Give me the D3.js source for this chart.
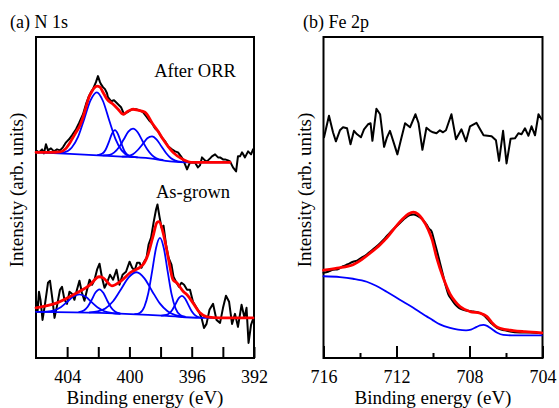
<!DOCTYPE html>
<html>
<head>
<meta charset="utf-8">
<script src="https://cdn.jsdelivr.net/npm/d3@7"></script>
<style>
  body { margin: 0; background: #fff; }
</style>
</head>
<body>
<svg id="chart" width="559" height="408"></svg>
<script>
// ---- N 1s : binding energy (eV), intensity (arb. units) ----
const n1sTicks = [404, 402, 400, 398, 396, 394, 392];
const n1sLabels = [404, 400, 396, 392];

// After ORR
const orrRaw = [[406.00,103.5],[405.81,102.5],[405.61,104],[405.49,102],[405.36,106.5],[405.23,103.5],[405.04,104.5],[404.84,103],[404.65,104],[404.46,103.5],[404.27,105],[404.07,107.5],[403.88,109],[403.69,111],[403.43,114],[403.24,117],[402.98,121.5],[402.79,126.5],[402.60,130.5],[402.47,132.5],[402.34,134],[402.15,137.5],[402.02,140.5],[401.89,137.5],[401.83,136.5],[401.70,135],[401.57,134],[401.44,132],[401.38,130],[401.18,128],[400.99,128.5],[400.86,127.5],[400.67,126],[400.54,125],[400.35,121.5],[400.16,122.5],[400.03,123],[399.83,124],[399.58,124],[399.38,123.5],[399.13,122.5],[398.93,120.5],[398.74,118.5],[398.55,117],[398.36,114.5],[398.16,113],[397.97,110.5],[397.71,108],[397.52,105.5],[397.27,104],[397.07,103],[396.88,102.5],[396.69,100.5],[396.56,99],[396.43,96.5],[396.30,94],[396.11,97.5],[395.92,97.5],[395.79,97.5],[395.60,95],[395.47,96],[395.34,100],[395.15,98.5],[395.02,98],[394.82,99.5],[394.70,100.5],[394.50,101.5],[394.31,100],[394.18,100],[393.99,99],[393.86,99],[393.67,98.5],[393.54,98],[393.35,95],[393.15,93],[393.03,100.5],[392.90,100.5],[392.77,102.5],[392.58,100],[392.38,103],[392.19,101.5],[392.06,104]];
const orrFit = [[406.00,102.5],[405.10,102.5],[404.46,102.75],[404.07,104.5],[403.88,106.5],[403.69,109],[403.43,112.5],[403.17,116],[402.98,120],[402.79,125],[402.60,130],[402.40,133],[402.27,134.5],[402.08,135.5],[401.89,135],[401.70,132.5],[401.44,129],[401.05,126.5],[400.73,124],[400.41,121.5],[400.09,123],[399.77,124],[399.45,123.5],[399.00,122.5],[398.49,116.5],[398.16,113],[397.84,109],[397.52,105.5],[397.20,102.5],[396.56,99],[395.92,97.5],[394.82,97.5],[393.54,97.5]];
const orrBg = [[406.00,102.5],[403.82,101.75],[400.80,100.5],[398.68,99.5],[397.39,98],[396.30,97.5],[393.54,97.5]];
const orrPeak1 = [[404.7,102.2],[404.2,102.5],[403.7,104.9],[403.3,110.2],[402.9,119.2],[402.5,128.4],[402.1,132.4],[401.7,128.1],[401.3,118.5],[400.9,109.25],[400.5,103.5],[400.0,100.7],[399.5,100.0]];
const orrPeak2 = [[402.03,101.1],[401.73,101.9],[401.53,103.8],[401.33,107.5],[401.13,111.65],[400.93,113.56],[400.73,111.5],[400.53,107.2],[400.33,103.3],[400.13,101.2],[399.83,100.1]];
const orrPeak3 = [[401.67,101.0],[401.27,101.3],[400.97,102.5],[400.67,105.0],[400.37,108.9],[400.07,112.8],[399.77,114.3],[399.47,112.5],[399.17,108.3],[398.87,104.2],[398.57,101.3],[398.27,99.6],[397.87,98.7]];
const orrPeak4 = [[400.45,100.4],[400.05,100.75],[399.75,101.7],[399.45,103.8],[399.15,106.6],[398.85,109.5],[398.55,110.45],[398.25,108.9],[397.95,105.55],[397.65,102.2],[397.35,99.7],[397.05,98.4],[396.65,97.8]];

// As-grown
const grownRaw = [[406.00,29],[405.90,23],[405.81,33],[405.71,29],[405.58,19],[405.42,27],[405.23,37.5],[405.10,38.5],[404.94,29],[404.81,20],[404.65,26],[404.46,34],[404.33,35.5],[404.17,29],[404.01,27],[403.85,33],[403.69,32],[403.53,29],[403.37,34],[403.21,38.5],[403.05,32.5],[402.89,28.5],[402.72,34],[402.56,39],[402.40,36.5],[402.24,39],[402.08,44],[401.92,47],[401.76,40],[401.60,35],[401.44,37.5],[401.25,41.5],[401.05,39],[400.83,44],[400.64,36.5],[400.44,41.5],[400.22,43],[399.99,48],[399.83,45],[399.67,43.5],[399.51,47.5],[399.35,47.5],[399.22,45],[399.06,48],[398.90,50],[398.77,56.5],[398.61,60],[398.45,67.5],[398.29,74],[398.20,76.5],[398.07,70.5],[397.94,65],[397.81,66],[397.65,56.5],[397.49,50],[397.30,46.5],[397.17,40.5],[396.98,37.5],[396.82,35.5],[396.66,37.5],[396.49,36.5],[396.30,34],[396.11,34],[395.92,28],[395.69,25],[395.53,23],[395.37,20],[395.21,15],[395.05,17],[394.86,24],[394.63,27],[394.41,19],[394.18,17.5],[393.99,25],[393.80,31],[393.60,28],[393.41,17],[393.22,22],[393.03,15.5],[392.80,26.5],[392.61,20],[392.48,25],[392.35,7.5],[392.19,16.5],[392.03,20]];
const grownFit = [[406.00,25],[404.65,27.5],[403.37,32.5],[402.53,36.5],[401.95,40.5],[401.70,40],[401.12,36],[400.61,38],[399.96,42.5],[399.13,46.5],[398.81,51.5],[398.49,60.5],[398.23,67.5],[398.10,68],[397.84,62.5],[397.52,50.5],[397.20,39],[396.96,37.5],[396.54,33.15],[396.30,31.5],[395.92,27.5],[395.47,22.5],[395.02,20.5],[394.18,20],[392.06,20]];
const grownBg = [[406.00,23],[401.89,22.5],[397.59,21],[395.47,20],[392.06,20]];
const grownPeakA = [[405.81,23.0],[405.31,23.1],[404.81,23.75],[404.41,25.3],[404.01,27.9],[403.61,30.6],[403.21,31.76],[402.81,30.5],[402.41,27.7],[402.01,25.0],[401.61,23.3],[401.11,22.4],[400.61,22.05]];
const grownPeakB = [[403.23,22.86],[402.93,23.62],[402.68,25.52],[402.43,28.9],[402.18,32.6],[401.93,34.25],[401.68,32.5],[401.43,28.68],[401.18,25.18],[400.93,23.16],[400.63,22.26]];
const grownPeakC = [[402.55,22.72],[402.05,23.18],[401.55,24.69],[401.05,28.26],[400.55,34.14],[400.05,40.19],[399.55,42.74],[399.05,39.84],[398.55,33.44],[398.05,27.21],[397.55,23.28],[397.05,21.4],[396.55,20.65]];
const grownPeakD = [[399.64,21.84],[399.34,22.45],[399.04,25.54],[398.79,32.25],[398.54,43.3],[398.29,54.84],[398.04,59.86],[397.79,54.67],[397.54,42.94],[397.29,31.69],[397.04,24.77],[396.74,21.44],[396.44,20.58]];
const grownPeakE = [[397.93,21.17],[397.63,21.47],[397.43,22.33],[397.23,24.23],[397.03,27.07],[396.83,29.86],[396.63,31.0],[396.43,29.67],[396.23,26.7],[396.03,23.66],[395.83,21.58],[395.63,20.54],[395.33,20.05]];

// ---- Fe 2p ----
const feMajor = [716, 712, 708, 704];
const feMinor = [714, 710, 706];

const feOrrRaw = [[715.97,110],[715.70,120.75],[715.48,112.5],[715.32,108],[715.10,113.5],[714.93,115],[714.71,114.5],[714.52,106.5],[714.33,113.25],[714.16,111.5],[713.95,110],[713.78,114],[713.56,116.5],[713.42,117],[713.32,108.25],[713.10,124.25],[712.90,121.5],[712.68,105.25],[712.52,110],[712.36,113.25],[712.14,107],[711.95,101.5],[711.75,109],[711.53,117],[711.26,115],[710.96,121.5],[710.79,117],[710.58,103.75],[710.36,114.75],[710.16,113.25],[710.00,112.5],[709.81,112],[709.62,113.5],[709.45,112.5],[709.29,113.5],[708.99,121.5],[708.74,109],[708.44,114],[708.19,108],[707.97,115.5],[707.62,117.25],[707.42,114],[707.23,111],[706.79,110.5],[706.55,108.5],[706.38,98.25],[706.16,113.25],[705.97,97],[705.75,109.25],[705.51,109.5],[705.32,112],[705.15,111.5],[704.96,114.5],[704.77,110.75],[704.60,115.5],[704.41,111],[704.22,121.5],[704.05,119]];
const feGrownRaw = [[716.00,42.5],[715.75,43],[715.48,44],[715.21,44.25],[714.93,45.75],[714.66,46.75],[714.38,48],[714.16,48.5],[713.91,50],[713.67,51.25],[713.45,53],[713.18,55],[712.90,57.25],[712.63,59.75],[712.36,62.5],[712.08,65],[711.81,67.25],[711.59,69.25],[711.42,70.5],[711.26,71.25],[711.08,71.5],[710.88,71],[710.71,70],[710.52,68.5],[710.35,66.5],[710.22,64.5],[710.07,63],[709.95,59],[709.80,54],[709.62,47.5],[709.44,41],[709.29,35.5],[709.16,31.75],[709.01,29.5],[708.79,26.75],[708.58,25],[708.34,24],[708.08,23.5],[707.79,23.15],[707.53,22.75],[707.24,21.5],[706.97,19],[706.77,17],[706.60,15.75],[706.38,14.5],[706.15,14],[705.78,13.25],[705.23,12.75],[704.68,12.65],[704.04,12.35]];
const feFit = [[716.00,43.75],[715.26,44.85],[714.38,46.5],[713.84,49.5],[713.45,52.25],[712.90,56.5],[712.52,60],[711.99,66],[711.64,69.5],[711.35,71.75],[711.08,72.75],[710.82,71.75],[710.60,69.5],[710.26,64],[710.05,59],[709.80,50],[709.44,40],[709.07,32],[708.79,28.25],[708.52,25.65],[707.97,23.15],[707.42,22.35],[707.06,20.75],[706.78,17.75],[706.55,15.75],[706.33,14.85],[705.60,13.65],[704.96,13.1],[704.04,12.5]];
const feBg = [[716.00,40.75],[715.10,40.35],[714.38,39.5],[713.63,38],[713.12,36],[712.54,33],[712.08,30.5],[711.63,28],[711.08,25],[710.71,22.75],[710.35,20.75],[710.00,18.75],[709.62,16.75],[709.07,15],[708.63,14.1],[708.19,13.75],[707.92,14.1],[707.61,15.5],[707.42,16.25],[707.24,16.5],[707.04,16],[706.88,15.1],[706.51,12.75],[706.15,11.5],[705.51,11.25],[704.04,11.25]];

const BLACK = "#000", RED = "#ff0000", BLUE = "#0000ff";
const FONT = "'Liberation Serif', 'DejaVu Serif', serif";

const svg = d3.select("#chart");
const plotTop = 37, plotBottom = 358;

const y = d3.scaleLinear().domain([0, 160]).range([plotBottom, plotTop]);
const xN = d3.scaleLinear().domain([406, 392]).range([36, 254]);
const xFe = d3.scaleLinear().domain([716, 704]).range([323.5, 542.5]);

function drawLine(g, x, data, color, width, smooth) {
    let line = d3.line()
        .x(d => x(d[0]))
        .y(d => y(d[1]))
        .curve(smooth ? d3.curveMonotoneX : d3.curveLinear);
    g.append("path")
        .datum(data)
        .attr("fill", "none")
        .attr("stroke", color)
        .attr("stroke-width", width)
        .attr("stroke-linejoin", "round")
        .attr("stroke-linecap", "round")
        .attr("d", line);
}

function label(g, x, yy, txt, size, anchor) {
    return g.append("text")
        .attr("x", x).attr("y", yy)
        .attr("text-anchor", anchor || "start")
        .style("font-family", FONT)
        .style("font-size", size + "px")
        .attr("fill", BLACK)
        .text(txt);
}

function frame(x, title, titleX) {
    let g = svg.append("g");
    let [x0, x1] = x.range();
    g.append("rect")
        .attr("x", x0).attr("y", plotTop)
        .attr("width", x1 - x0).attr("height", plotBottom - plotTop)
        .attr("fill", "none").attr("stroke", BLACK).attr("stroke-width", 2);

    label(g, titleX, 28, title, 18);
    label(g, (x0 + x1) / 2, 404, "Binding energy (eV)", 19, "middle");
    label(g, 0, 0, "Intensity (arb. units)", 19, "middle")
        .attr("transform", "translate(" + (x0 - 13) + ",190) rotate(-90)");
    return g;
}

function styleAxis(a) {
    a.select(".domain").remove();
    a.selectAll(".tick line").attr("stroke", BLACK).attr("stroke-width", 2);
    a.selectAll(".tick text")
        .style("font-family", FONT)
        .style("font-size", "18px")
        .attr("fill", BLACK);
}

// ---------- panel (a) ----------
let ga = frame(xN, "(a) N 1s", 10);
let axA = ga.append("g")
    .attr("transform", "translate(0," + plotBottom + ")")
    .call(d3.axisBottom(xN).tickValues(n1sTicks).tickSizeInner(-11).tickSizeOuter(0).tickPadding(12)
        .tickFormat(d => n1sLabels.includes(d) ? d : ""));
styleAxis(axA);

drawLine(ga, xN, orrRaw, BLACK, 2, false);
drawLine(ga, xN, grownRaw, BLACK, 2, false);
[orrBg, orrPeak1, orrPeak2, orrPeak3, orrPeak4,
 grownBg, grownPeakA, grownPeakB, grownPeakC, grownPeakD, grownPeakE]
    .forEach(p => drawLine(ga, xN, p, BLUE, 1.8, true));
drawLine(ga, xN, orrFit, RED, 2.8, true);
drawLine(ga, xN, grownFit, RED, 2.8, true);

label(ga, 195, 77, "After ORR", 18.5, "middle");
label(ga, 193, 198, "As-grown", 18.5, "middle");

// ---------- panel (b) ----------
let gb = frame(xFe, "(b) Fe 2p", 303);
let axMinor = gb.append("g")
    .attr("transform", "translate(0," + plotBottom + ")")
    .call(d3.axisBottom(xFe).tickValues(feMinor).tickSizeInner(-5).tickSizeOuter(0).tickFormat(""));
styleAxis(axMinor);
let axMajor = gb.append("g")
    .attr("transform", "translate(0," + plotBottom + ")")
    .call(d3.axisBottom(xFe).tickValues(feMajor).tickSizeInner(-12).tickSizeOuter(0).tickPadding(12)
        .tickFormat(d3.format("d")));
styleAxis(axMajor);

drawLine(gb, xFe, feOrrRaw, BLACK, 2, false);
drawLine(gb, xFe, feGrownRaw, BLACK, 2, true);
drawLine(gb, xFe, feBg, BLUE, 1.8, true);
drawLine(gb, xFe, feFit, RED, 2.8, true);
</script>
</body>
</html>
